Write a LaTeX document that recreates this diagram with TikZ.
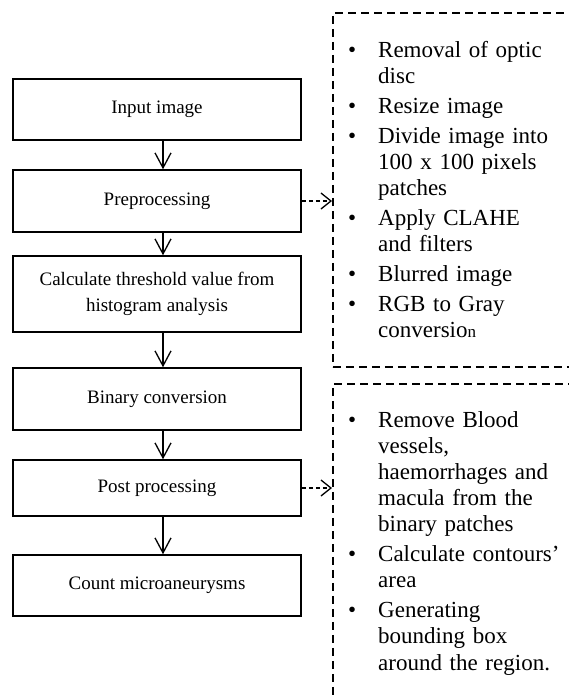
\documentclass[tikz,border=0pt]{standalone}
\usepackage{fontspec}
\setmainfont{Liberation Serif}
\usetikzlibrary{arrows.meta}

% bulleted entry with a hanging indent for its continuation lines
\newcommand{\bitem}[1]{\par\hangindent=30pt\hangafter=1\noindent\hbox to 30pt{\textbullet\hss}#1}
\newcommand{\bsep}[1]{\par\vspace{#1}}
\newcommand{\nl}{\hfil\break}

\tikzset{
  stepbox/.style={draw, line width=1.5pt, minimum width=288pt, inner sep=0pt,
    align=center, font=\fontsize{19}{26}\selectfont},
  flow/.style={line width=1.3pt, -{Straight Barb[length=15pt,width=16pt,line width=1.3pt]}},
  sideflow/.style={line width=1.3pt, dash pattern=on 4pt off 3pt,
    -{Straight Barb[length=10pt,width=16pt,line width=1.3pt]}},
  notebox/.style={draw, line width=1.5pt, dash pattern=on 8pt off 5pt, inner sep=0pt},
  notes/.style={anchor=base west, inner sep=0pt, text width=250pt,
    font=\fontsize{23}{26}\selectfont},
}

\begin{document}
\begin{tikzpicture}[x=1pt, y=-1pt]
  \useasboundingbox (0,0) rectangle (569,699);
  \clip (0,0) rectangle (569,699);
  \fill[white] (0,0) rectangle (569,699);

  % main processing chain
  \node[stepbox, minimum height=61pt] (b1) at (157,109.5) {Input image};
  \node[stepbox, minimum height=62pt] (b2) at (157,201) {Preprocessing};
  \node[stepbox, minimum height=76pt] (b3) at (157,294) {Calculate threshold value from\\histogram analysis};
  \node[stepbox, minimum height=62pt] (b4) at (157,399) {Binary conversion};
  \node[stepbox, minimum height=56pt] (b5) at (157,488) {Post processing};
  \node[stepbox, minimum height=61pt] (b6) at (157,585.5) {Count microaneurysms};

  \draw[flow] ([xshift=6pt]b1.south) -- ([xshift=6pt]b2.north);
  \draw[flow] ([xshift=6pt]b2.south) -- ([xshift=6pt]b3.north);
  \draw[flow] ([xshift=6pt]b3.south) -- ([xshift=6pt]b4.north);
  \draw[flow] ([xshift=6pt]b4.south) -- ([xshift=6pt]b5.north);
  \draw[flow] ([xshift=6pt]b5.south) -- ([xshift=6pt]b6.north);

  % dashed detail panels (open towards the right and bottom)
  \node[notebox, anchor=north west, minimum width=270pt, minimum height=354pt] (d1) at (332,12) {};
  \node[notebox, anchor=north west, minimum width=270pt, minimum height=340pt] (d2) at (332,383) {};

  \draw[sideflow] (b2.east) -- (b2.east -| d1.west);
  \draw[sideflow] (b5.east) -- (b5.east -| d2.west);

  \node[notes] (n1) at (348,31) {%
    \bitem{Removal of optic\nl disc}\bsep{4pt}
    \bitem{Resize image}\bsep{4pt}
    \bitem{Divide image into\nl 100 x 100 pixels\nl patches}\bsep{4pt}
    \bitem{Apply CLAHE\nl and filters}\bsep{4pt}
    \bitem{Blurred image}\bsep{4pt}
    \bitem{RGB to Gray\nl conversio{\fontsize{17}{20}\selectfont n}}\par};

  \node[notes, font=\fontsize{23}{26.1}\selectfont] (n2) at (348,401) {%
    \bitem{Remove Blood\nl vessels,\nl haemorrhages and\nl macula from the\nl binary patches}\bsep{4pt}
    \bitem{Calculate contours'\nl area}\bsep{4pt}
    \bitem{Generating\nl bounding box\nl around the region.}\par};
\end{tikzpicture}
\end{document}
